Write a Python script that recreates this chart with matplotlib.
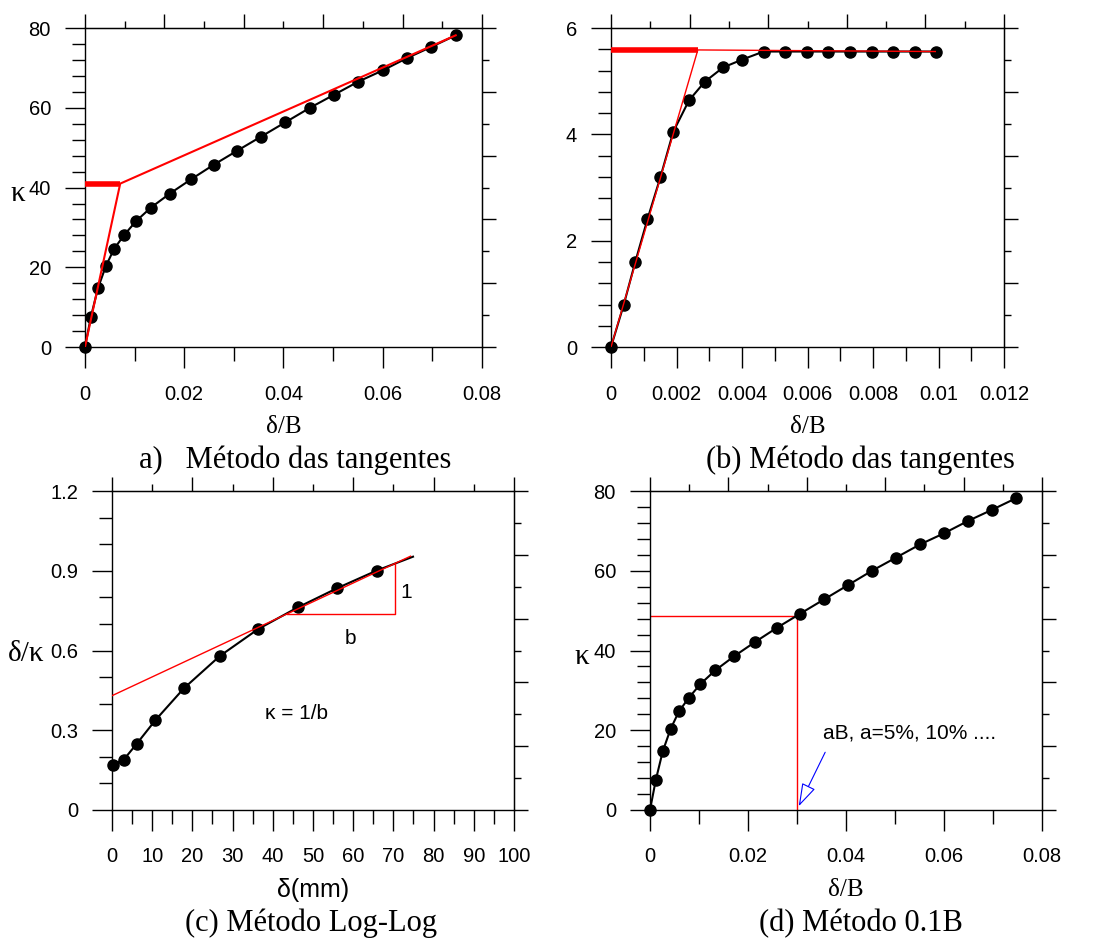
import numpy as np
import matplotlib.pyplot as plt
from matplotlib.ticker import MultipleLocator, FuncFormatter

plt.rcParams['font.family'] = 'Liberation Sans'

# load-settlement data (panels a and d)
dB = [0, 0.00118, 0.0026, 0.0042, 0.0059, 0.0079, 0.0103, 0.0133, 0.0171, 0.0214, 0.0259,
      0.0306, 0.0355, 0.0404, 0.0453, 0.0502, 0.0551, 0.0600, 0.0649, 0.0698, 0.0747]
kap = [0, 7.5, 14.7, 20.3, 24.7, 28.1, 31.6, 35.0, 38.5, 42.1, 45.7,
       49.2, 52.8, 56.4, 60.0, 63.3, 66.6, 69.4, 72.5, 75.3, 78.2]

# panel b
dB_b = [0, 0.00039, 0.00074, 0.00111, 0.00151, 0.0019, 0.00238, 0.00286, 0.00342, 0.00401,
        0.00466, 0.00532, 0.00597, 0.00663, 0.0073, 0.00796, 0.00862, 0.00928, 0.00993]
kap_b = [0, 0.8, 1.6, 2.4, 3.2, 4.05, 4.64, 4.99, 5.26, 5.41,
         5.56, 5.56, 5.56, 5.56, 5.56, 5.56, 5.56, 5.56, 5.56]

# panel c (last point is line end only)
d_mm = [0.2, 2.9, 6.2, 10.8, 17.9, 26.8, 36.4, 46.2, 56.1, 65.9, 74.9]
d_k = [0.171, 0.189, 0.250, 0.338, 0.458, 0.579, 0.681, 0.762, 0.835, 0.901, 0.953]

# construction lines
tan_a_x, tan_a_y = [0, 0.0071, 0.0747], [0, 41, 78.2]
tan_b_x, tan_b_y = [0, 0.00265, 0.0099], [0, 5.59, 5.56]
tan_c_x, tan_c_y = [0, 74.3], [0.430, 0.955]
tri_c_x, tri_c_y = [43.5, 70.5, 70.5], [0.737, 0.737, 0.927]
ab_x, ab_y = [0, 0.030, 0.030], [48.7, 48.7, 0]

SERIF = 'Liberation Serif'
fmt = FuncFormatter(lambda v, p: '%g' % round(v, 6))


def style(ax, xmax, ymax, xmaj, xmin, ymaj, ymin):
    ax.set_xlim(0, xmax)
    ax.set_ylim(0, ymax)
    ax.xaxis.set_major_locator(MultipleLocator(xmaj))
    ax.xaxis.set_minor_locator(MultipleLocator(xmin))
    ax.yaxis.set_major_locator(MultipleLocator(ymaj))
    ax.yaxis.set_minor_locator(MultipleLocator(ymin))
    ax.xaxis.set_major_formatter(fmt)
    ax.yaxis.set_major_formatter(fmt)
    ax.tick_params(axis='x', which='major', direction='out', length=15, width=1, pad=12, labelsize=14.5)
    ax.tick_params(axis='x', which='minor', direction='out', length=10, width=1)
    ax.tick_params(axis='y', which='major', direction='out', length=14.5, width=1, pad=10, labelsize=14.5)
    ax.tick_params(axis='y', which='minor', direction='out', length=9.5, width=1)
    ax.tick_params(top=False, right=False, which='both')
    for s in ax.spines.values():
        s.set_linewidth(1)
    # top and right axes: 10 divisions, every second long
    top = ax.secondary_xaxis('top')
    top.set_xticks(np.linspace(0, xmax, 6))
    top.set_xticks(np.linspace(0, xmax, 11), minor=True)
    top.set_xticklabels([])
    top.tick_params(which='major', direction='out', length=10, width=1)
    top.tick_params(which='minor', direction='out', length=5, width=1)
    rt = ax.secondary_yaxis('right')
    rt.set_yticks(np.linspace(0, ymax, 6))
    rt.set_yticks(np.linspace(0, ymax, 11), minor=True)
    rt.set_yticklabels([])
    rt.tick_params(which='major', direction='out', length=10, width=1)
    rt.tick_params(which='minor', direction='out', length=5, width=1)


fig = plt.figure(figsize=(10.95, 9.38), dpi=100)
axa = fig.add_axes([0.0776, 0.630, 0.3626, 0.340])
axb = fig.add_axes([0.558, 0.630, 0.359, 0.340])
axc = fig.add_axes([0.1023, 0.1365, 0.367, 0.340])
axd = fig.add_axes([0.5936, 0.1365, 0.358, 0.340])

# (a)
style(axa, 0.08, 80, 0.02, 0.01, 20, 4)
axa.plot(dB, kap, '-o', color='black', lw=1.5, ms=8, clip_on=False, zorder=3)
axa.plot(tan_a_x, tan_a_y, color='red', lw=1.5, zorder=4)
axa.plot(tan_a_x[:2], [tan_a_y[1]] * 2, color='red', lw=4, solid_capstyle='butt', zorder=4)
axa.text(-0.17, 0.48, 'κ', transform=axa.transAxes, family=SERIF, fontsize=21, ha='center', va='center')
axa.text(0.5, -0.25, 'δ/B', transform=axa.transAxes, family=SERIF, fontsize=18, ha='center', va='center')
axa.text(0.53, -0.356, 'a)   Método das tangentes', transform=axa.transAxes, family=SERIF,
         fontsize=22, ha='center', va='center')

# (b)
style(axb, 0.012, 6, 0.002, 0.001, 2, 0.4)
axb.plot(dB_b, kap_b, '-o', color='black', lw=1.5, ms=8, clip_on=False, zorder=3)
axb.plot(tan_b_x, tan_b_y, color='red', lw=1, zorder=4)
axb.plot(tan_b_x[:2], [tan_b_y[1]] * 2, color='red', lw=4, solid_capstyle='butt', zorder=4)
axb.text(0.5, -0.25, 'δ/B', transform=axb.transAxes, family=SERIF, fontsize=18, ha='center', va='center')
axb.text(0.634, -0.356, '(b) Método das tangentes', transform=axb.transAxes, family=SERIF,
         fontsize=22, ha='center', va='center')

# (c)
style(axc, 100, 1.2, 10, 5, 0.3, 0.1)
axc.plot(d_mm, d_k, '-o', color='black', lw=1.5, ms=8, markevery=slice(0, len(d_mm) - 1),
         clip_on=False, zorder=3)
axc.plot(tan_c_x, tan_c_y, color='red', lw=1, zorder=4)
axc.plot(tri_c_x, tri_c_y, color='red', lw=1, zorder=4)
axc.text(73.2, 0.82, '1', fontsize=15, ha='center', va='center')
axc.text(59.4, 0.646, 'b', fontsize=15, ha='center', va='center')
axc.text(45.9, 0.364, 'κ = 1/b', fontsize=15, ha='center', va='center')
axc.text(-0.214, 0.49, 'δ/κ', transform=axc.transAxes, family=SERIF, fontsize=21, ha='center', va='center')
axc.text(0.5, -0.25, 'δ(mm)', transform=axc.transAxes, fontsize=18, ha='center', va='center')
axc.text(0.495, -0.356, '(c) Método Log-Log', transform=axc.transAxes, family=SERIF,
         fontsize=22, ha='center', va='center')

# (d)
style(axd, 0.08, 80, 0.02, 0.01, 20, 4)
axd.plot(dB, kap, '-o', color='black', lw=1.5, ms=8, clip_on=False, zorder=3)
axd.plot(ab_x, ab_y, color='red', lw=1, zorder=2)
axd.annotate('', xy=(0.0301, 0.3), xytext=(0.036, 15.1),
             arrowprops=dict(arrowstyle='-|>,head_length=0.8,head_width=0.25', fc='white',
                             ec='blue', lw=0.8, mutation_scale=18))
axd.text(0.0353, 19.3, 'aB, a=5%, 10% ....', fontsize=15, ha='left', va='center')
axd.text(-0.173, 0.48, 'κ', transform=axd.transAxes, family=SERIF, fontsize=21, ha='center', va='center')
axd.text(0.5, -0.25, 'δ/B', transform=axd.transAxes, family=SERIF, fontsize=18, ha='center', va='center')
axd.text(0.538, -0.356, '(d) Método 0.1B', transform=axd.transAxes, family=SERIF,
         fontsize=22, ha='center', va='center')

fig.savefig('out.png', dpi=100)
